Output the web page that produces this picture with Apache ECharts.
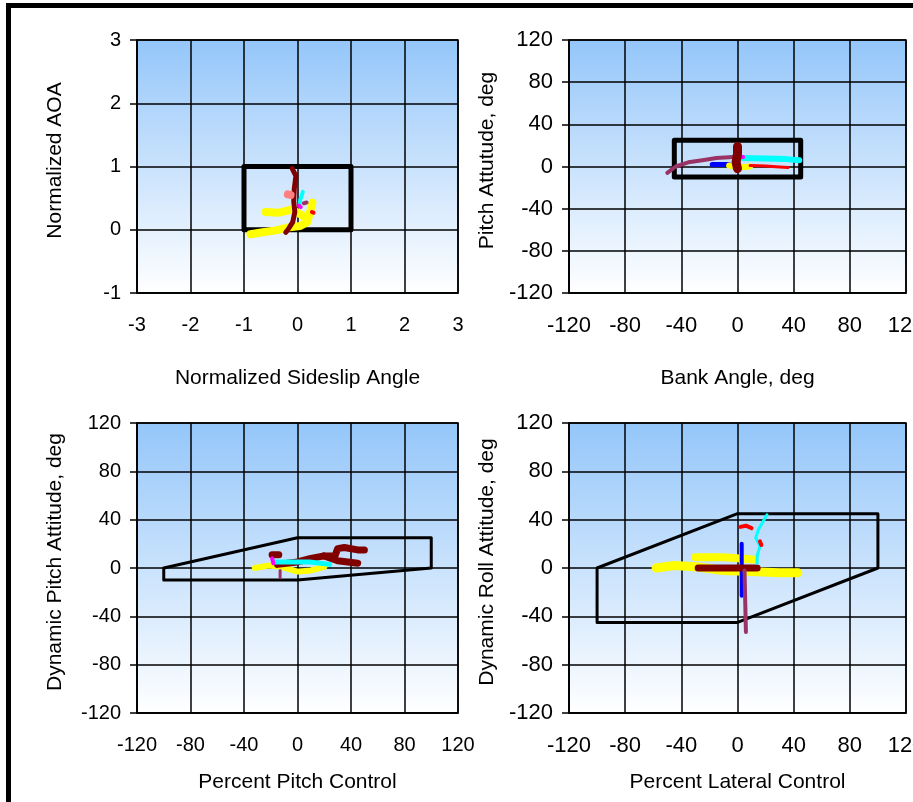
<!DOCTYPE html>
<html>
<head>
<meta charset="utf-8">
<script src="https://cdn.jsdelivr.net/npm/echarts@6/dist/echarts.min.js"></script>
<style>
	html, body { margin: 0; padding: 0; background: #fff; overflow: hidden; }
	#main { width: 913px; height: 802px; }
</style>
</head>
<body>
<div id="main"></div>
<script type="text/javascript">

	// axis ticks
	var p1Ticks = [-3, -2, -1, 0, 1, 2, 3];
	var p1YTicks = [-1, 0, 1, 2, 3];
	var degTicks = [-120, -80, -40, 0, 40, 80, 120];

	// panel 1 - normalized AOA vs sideslip
	var p1Box = [[-1, 0], [1, 0], [1, 1], [-1, 1], [-1, 0]];
	var p1Maroon = [[-0.1, 0.97], [-0.03, 0.85], [-0.06, 0.65], [-0.07, 0.45], [-0.05, 0.28], [-0.09, 0.12], [-0.18, 0.0], [-0.22, -0.04]];
	var p1YellowA = [[-0.88, -0.07], [-0.65, -0.04], [-0.4, -0.01], [-0.15, 0.04], [0.05, 0.06], [0.18, 0.12], [0.24, 0.3], [0.28, 0.43]];
	var p1YellowB = [[-0.6, 0.28], [-0.35, 0.27], [-0.1, 0.32], [0.1, 0.22], [0.2, 0.18]];
	var p1Cyan = [[0.1, 0.6], [0.05, 0.47], [0.04, 0.4]];
	var p1Salmon = [[-0.18, 0.56], [-0.13, 0.55]];
	var p1Red = [[0.27, 0.28], [0.3, 0.27]];
	var p1Magenta = [[0.03, 0.38], [0.06, 0.36]];
	var p1Purple = [[0.12, 0.42], [0.17, 0.43]];

	// panel 2 - pitch attitude vs bank angle
	var p2Box = [[-45, -10], [45, -10], [45, 25], [-45, 25], [-45, -10]];
	var p2Purple = [[-50, -6], [-44, 0], [-35, 4], [-25, 6], [-15, 8], [-3, 9]];
	var p2Maroon = [[0, 19], [0, 12], [-1, 4], [0, -2]];
	var p2Cyan = [[4, 8], [20, 7.5], [35, 7], [44, 6]];
	var p2Blue = [[-18, 2], [-6, 2]];
	var p2Yellow = [[-6, 1], [0, -1], [9, 0]];
	var p2Red = [[9, 1], [20, 0.5], [30, -0.5], [36, -1]];
	var p2Magenta = [[2, 9], [4, 9]];

	// panel 3 - dynamic pitch attitude vs pitch control
	var p3Box = [[-100, 0], [0, 25], [100, 25], [100, 0], [0, -10], [-100, -10], [-100, 0]];
	var p3MaroonA = [[-15, 3], [0, 5], [10, 8], [20, 10], [28, 10], [30, 16], [35, 17], [45, 15], [50, 15]];
	var p3MaroonB = [[20, 10], [30, 6], [45, 4]];
	var p3MaroonC = [[-19, 11], [-14, 11]];
	var p3Yellow = [[-32, 0], [-22, 2], [-12, 1], [0, -3], [10, -2], [20, 1]];
	var p3Cyan = [[-18, 5], [-5, 5], [9, 5], [24, 3]];
	var p3Magenta = [[-19, 8], [-18, 4]];
	var p3Purple = [[-13, -2], [-13, -8]];

	// panel 4 - dynamic roll attitude vs lateral control
	var p4Box = [[-100, 0], [0, 45], [100, 45], [100, 0], [0, -45], [-100, -45], [-100, 0]];
	var p4YellowA = [[-58, 0], [-45, 2], [-30, 1], [-10, -2], [10, -3], [30, -4], [43, -4]];
	var p4YellowB = [[-30, 9], [-10, 9], [11, 7]];
	var p4Maroon = [[-28, 0], [-10, 0], [14, 0]];
	var p4Purple = [[5, -2], [6, -53]];
	var p4Blue = [[3, 20], [3, 0], [3, -23]];
	var p4Cyan = [[21, 44], [18, 38], [15, 32], [13, 25], [16, 18], [14, 10], [14, 4]];
	var p4RedA = [[2, 34], [6, 35], [10, 33]];
	var p4RedB = [[16, 22], [17, 19]];

	var FONT = "'Liberation Sans', Arial, sans-serif";

	var bg = {
		type: 'linear', x: 0, y: 0, x2: 0, y2: 1,
		colorStops: [{offset: 0, color: '#94c6fa'}, {offset: 1, color: '#ffffff'}]
	};

	function grid(left, top, width, height) {
		return {left: left, top: top, width: width, height: height, show: true,
			backgroundColor: bg, borderColor: '#000', borderWidth: 1.5,
			containLabel: false, outerBoundsMode: 'none'};
	}

	function xAxis(idx, min, max, interval, name, fs, gap) {
		return {
			type: 'value', gridIndex: idx, min: min, max: max, interval: interval,
			name: name, nameLocation: 'middle', nameGap: gap,
			nameTextStyle: {fontFamily: FONT, fontSize: 21, color: '#000'},
			axisLine: {show: true, onZero: false, lineStyle: {color: '#000', width: 1.5}},
			axisTick: {show: false},
			axisLabel: {fontFamily: FONT, fontSize: fs, color: '#000', margin: 22, hideOverlap: false},
			splitLine: {show: true, lineStyle: {color: '#000', width: 1.5}}
		};
	}

	function yAxis(idx, min, max, interval, name, fs) {
		return {
			type: 'value', gridIndex: idx, min: min, max: max, interval: interval,
			name: name, nameLocation: 'middle', nameGap: 71,
			nameTextStyle: {fontFamily: FONT, fontSize: 21, color: '#000', padding: [0, 0, 0, 12]},
			axisLine: {show: true, onZero: false, lineStyle: {color: '#000', width: 1.5}},
			axisTick: {show: true, length: 7, lineStyle: {color: '#000', width: 1.5}},
			axisLabel: {fontFamily: FONT, fontSize: fs, color: '#000', margin: 16},
			splitLine: {show: true, lineStyle: {color: '#000', width: 1.5}}
		};
	}

	function trace(idx, data, color, width) {
		return {
			type: 'line', xAxisIndex: idx, yAxisIndex: idx, data: data,
			showSymbol: false, symbol: 'none', silent: true, animation: false,
			lineStyle: {color: color, width: width, cap: 'round', join: 'round'}
		};
	}

	var Y = '#ffff00', MAROON = '#800000', CYAN = '#00ffff', BLUE = '#0000ff',
		RED = '#ff0000', MAG = '#ff00ff', PURP = '#993366', SALMON = '#ff8080';

	var chart = echarts.init(document.getElementById('main'), null, {renderer: 'canvas'});
	chart.setOption({
		backgroundColor: '#fff',
		animation: false,
		grid: [
			grid(137, 40, 321, 253),
			grid(569, 40, 337, 253),
			grid(137, 423, 321, 290),
			grid(569, 423, 337, 290)
		],
		xAxis: [
			xAxis(0, -3, 3, 1, 'Normalized Sideslip Angle', 20, 75),
			xAxis(1, -120, 120, 40, 'Bank Angle, deg', 22, 75),
			xAxis(2, -120, 120, 40, 'Percent Pitch Control', 20, 59),
			xAxis(3, -120, 120, 40, 'Percent Lateral Control', 22, 59)
		],
		yAxis: [
			yAxis(0, -1, 3, 1, 'Normalized AOA', 20),
			yAxis(1, -120, 120, 40, 'Pitch Attutude, deg', 22),
			yAxis(2, -120, 120, 40, 'Dynamic Pitch Attitude, deg', 20),
			yAxis(3, -120, 120, 40, 'Dynamic Roll Attitude, deg', 22)
		],
		graphic: [{
			type: 'rect', silent: true, z: 100,
			shape: {x: 8.5, y: 5.5, width: 1000, height: 1000},
			style: {fill: 'none', stroke: '#000', lineWidth: 5}
		}],
		series: [
			trace(0, p1Box, '#000', 5),
			trace(0, p1YellowA, Y, 8),
			trace(0, p1YellowB, Y, 8),
			trace(0, p1Maroon, MAROON, 5),
			trace(0, p1Cyan, CYAN, 4),
			trace(0, p1Salmon, SALMON, 8),
			trace(0, p1Red, RED, 4),
			trace(0, p1Magenta, MAG, 4),
			trace(0, p1Purple, PURP, 4),

			trace(1, p2Box, '#000', 5),
			trace(1, p2Purple, PURP, 4),
			trace(1, p2Blue, BLUE, 5),
			trace(1, p2Yellow, Y, 6),
			trace(1, p2Red, RED, 3),
			trace(1, p2Cyan, CYAN, 6),
			trace(1, p2Magenta, MAG, 4),
			trace(1, p2Maroon, MAROON, 9),

			trace(2, p3Box, '#000', 3),
			trace(2, p3Yellow, Y, 6),
			trace(2, p3MaroonA, MAROON, 7),
			trace(2, p3MaroonB, MAROON, 7),
			trace(2, p3MaroonC, MAROON, 7),
			trace(2, p3Cyan, CYAN, 5),
			trace(2, p3Magenta, MAG, 4),
			trace(2, p3Purple, PURP, 3),

			trace(3, p4Box, '#000', 3),
			trace(3, p4YellowA, Y, 9),
			trace(3, p4YellowB, Y, 8),
			trace(3, p4Blue, BLUE, 4),
			trace(3, p4Maroon, MAROON, 7),
			trace(3, p4Purple, PURP, 4),
			trace(3, p4Cyan, CYAN, 3),
			trace(3, p4RedA, RED, 4),
			trace(3, p4RedB, RED, 4)
		]
	});
</script>
</body>
</html>
